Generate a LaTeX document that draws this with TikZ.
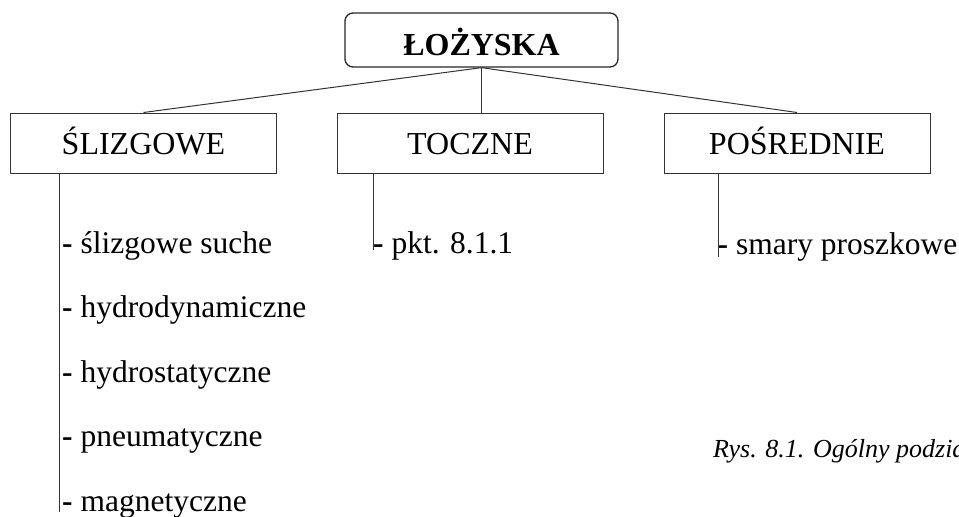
\documentclass[tikz,border=0pt]{standalone}
\usepackage{fontspec}
\setmainfont{Liberation Serif}
\usetikzlibrary{positioning}
\tikzset{
    rootbox/.style={rectangle, rounded corners=8pt, draw=black!85, line width=1.3pt, minimum width=273pt, minimum height=54pt, inner sep=0pt, text height=30pt, text depth=0pt, font=\fontsize{32}{36}\selectfont\bfseries},
    catbox/.style={rectangle, draw=black!80, line width=1pt, minimum width=266pt, minimum height=60pt, inner sep=0pt, text height=27pt, text depth=5pt, font=\fontsize{32}{36}\selectfont},
    link/.style={black!80, line width=1pt},
    listitem/.style={anchor=base west, inner sep=0pt, font=\fontsize{31.5}{36}\selectfont},
}

\begin{document}
\begin{tikzpicture}[x=1pt, y=-1pt]
\clip (0,0) rectangle (959,517);

% Root and categories
\node[rootbox] (root) at (481.5,40) {ŁOŻYSKA};
\node[catbox] (slide) at (143.5,143) {ŚLIZGOWE};
\node[catbox] (roll) at (470,143) {TOCZNE};
\node[catbox] (mid) at (797,143) {POŚREDNIE};

\draw[link] (root.south) -- (slide.north);
\draw[link] (root.south) -- (roll.north -| root.south);
\draw[link] (root.south) -- (mid.north);

% Slide bearings list
\node[listitem] (s1) at (62,253) {\textbf{-} ślizgowe suche};
\node[listitem] (s2) at (62,317.5) {\textbf{-} hydrodynamiczne};
\node[listitem] (s3) at (62,382) {\textbf{-} hydrostatyczne};
\node[listitem] (s4) at (62,446.5) {\textbf{-} pneumatyczne};
\node[listitem] (s5) at (62,511) {\textbf{-} magnetyczne};
\coordinate (s-end) at (59,512);
\draw[link] (s-end |- slide.south) -- (s-end);

% Rolling bearings
\node[listitem] (r1) at (373,253) {\textbf{-} pkt. 8.1.1};
\coordinate (r-end) at (373,250);
\draw[link] (r-end |- roll.south) -- (r-end);

% Intermediate bearings
\node[listitem] (m1) at (717.5,254) {\textbf{-} smary proszkowe};
\coordinate (m-end) at (718,257);
\draw[link] (m-end |- mid.south) -- (m-end);

% Caption
\node[anchor=base west, inner sep=0pt, font=\fontsize{26}{30}\selectfont\itshape] (caption) at (713,457) {Rys. 8.1. Ogólny podział};

\end{tikzpicture}
\end{document}
